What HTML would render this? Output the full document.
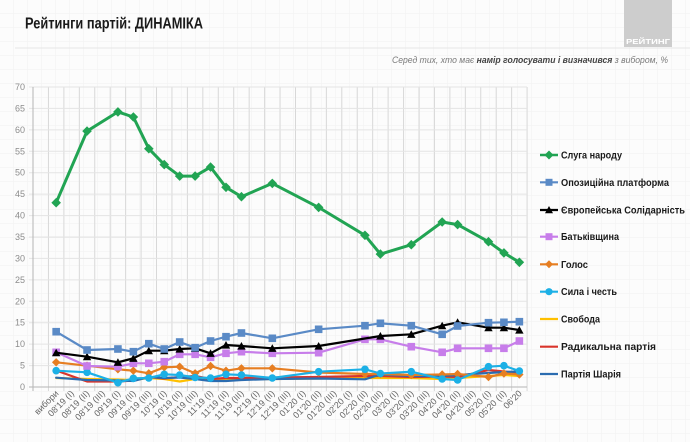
<!DOCTYPE html>
<html><head><meta charset="utf-8">
<style>
html,body{margin:0;padding:0;background:#fcfcfc;}
svg{display:block;}
text{font-family:"Liberation Sans","DejaVu Sans",sans-serif;}
</style></head>
<body>
<svg width="690" height="442" viewBox="0 0 690 442" xmlns="http://www.w3.org/2000/svg">
<defs>
<pattern id="bg" width="14" height="14" patternUnits="userSpaceOnUse">
<path d="M14 0V14M0 14H14" stroke="#f1f1f1" stroke-width="1" fill="none"/>
</pattern>
<marker id="mG" markerUnits="userSpaceOnUse" markerWidth="12" markerHeight="12" refX="6" refY="6"><path d="M6 1.2L10.8 6L6 10.8L1.2 6Z" fill="#21a453"/></marker>
<marker id="mB" markerUnits="userSpaceOnUse" markerWidth="10" markerHeight="10" refX="5" refY="5"><rect x="1.2" y="1.2" width="7.6" height="7.6" fill="#5a8ac6"/></marker>
<marker id="mK" markerUnits="userSpaceOnUse" markerWidth="10" markerHeight="10" refX="5" refY="5"><path d="M5 1L9.2 8.6H0.8Z" fill="#000"/></marker>
<marker id="mP" markerUnits="userSpaceOnUse" markerWidth="10" markerHeight="10" refX="5" refY="5"><rect x="1.2" y="1.2" width="7.6" height="7.6" fill="#c77dea"/></marker>
<marker id="mO" markerUnits="userSpaceOnUse" markerWidth="10" markerHeight="10" refX="5" refY="5"><path d="M5 0.8L9.2 5L5 9.2L0.8 5Z" fill="#e67e22"/></marker>
<marker id="mC" markerUnits="userSpaceOnUse" markerWidth="10" markerHeight="10" refX="5" refY="5"><circle cx="5" cy="5" r="3.8" fill="#1cb0e6"/></marker>
</defs>
<rect width="690" height="442" fill="#fcfcfc"/>
<rect width="690" height="442" fill="url(#bg)"/>
<line x1="15" y1="48" x2="690" y2="48" stroke="#e6e6e6" stroke-width="1"/>

<!-- logo -->
<rect x="624" y="0" width="48" height="47" fill="#cdcdcd"/>
<text x="626" y="44" font-size="7.5" font-weight="bold" fill="#ffffff" textLength="44" lengthAdjust="spacingAndGlyphs">РЕЙТИНГ</text>

<!-- title -->
<text x="25" y="28.5" font-size="16" font-weight="bold" fill="#1a1a1a" textLength="178" lengthAdjust="spacingAndGlyphs">Рейтинги партій: ДИНАМІКА</text>

<!-- subtitle -->
<text x="392" y="63" font-size="9" font-style="italic" fill="#7a7a7a" textLength="276" lengthAdjust="spacingAndGlyphs">Серед тих, хто має <tspan font-weight="bold" fill="#444">намір голосувати і визначився</tspan> з вибором, %</text>

<!-- grid -->
<path d="M33 87V391M48.44 87V391M63.88 87V391M79.32 87V391M94.76 87V391M110.2 87V391M125.64 87V391M141.08 87V391M156.52 87V391M171.96 87V391M187.4 87V391M202.84 87V391M218.28 87V391M233.72 87V391M249.16 87V391M264.6 87V391M280.04 87V391M295.48 87V391M310.92 87V391M326.36 87V391M341.8 87V391M357.24 87V391M372.68 87V391M388.12 87V391M403.56 87V391M419 87V391M434.44 87V391M449.88 87V391M465.32 87V391M480.76 87V391M496.2 87V391M511.64 87V391M527.08 87V391" stroke="#d8d8d8" stroke-width="1" fill="none"/>
<path d="M29 365.57H527M29 344.14H527M29 322.71H527M29 301.29H527M29 279.86H527M29 258.43H527M29 237H527M29 215.57H527M29 194.14H527M29 172.71H527M29 151.29H527M29 129.86H527M29 108.43H527M29 87H527" stroke="#e4e4e4" stroke-width="1" fill="none"/>
<line x1="33" y1="87" x2="33" y2="391" stroke="#b5b5b5" stroke-width="1"/>
<line x1="29" y1="387" x2="527" y2="387" stroke="#b5b5b5" stroke-width="1"/>

<!-- y labels -->
<g font-size="9" fill="#8c8c8c" text-anchor="end">
<text x="25" y="390">0</text>
<text x="25" y="368.6">5</text>
<text x="25" y="347.1">10</text>
<text x="25" y="325.7">15</text>
<text x="25" y="304.3">20</text>
<text x="25" y="282.9">25</text>
<text x="25" y="261.4">30</text>
<text x="25" y="240">35</text>
<text x="25" y="218.6">40</text>
<text x="25" y="197.1">45</text>
<text x="25" y="175.7">50</text>
<text x="25" y="154.3">55</text>
<text x="25" y="132.9">60</text>
<text x="25" y="111.4">65</text>
<text x="25" y="90">70</text>
</g>

<!-- x labels -->
<g font-size="9" fill="#666" text-anchor="end">
<text transform="translate(59.2,394) rotate(-45)">вибори</text>
<text transform="translate(74.6,394) rotate(-45)">08'19 (I)</text>
<text transform="translate(90.0,394) rotate(-45)">08'19 (II)</text>
<text transform="translate(105.5,394) rotate(-45)">08'19 (III)</text>
<text transform="translate(120.9,394) rotate(-45)">09'19 (I)</text>
<text transform="translate(136.4,394) rotate(-45)">09'19 (II)</text>
<text transform="translate(151.8,394) rotate(-45)">09'19 (III)</text>
<text transform="translate(167.2,394) rotate(-45)">10'19 (I)</text>
<text transform="translate(182.7,394) rotate(-45)">10'19 (II)</text>
<text transform="translate(198.1,394) rotate(-45)">10'19 (III)</text>
<text transform="translate(213.6,394) rotate(-45)">11'19 (I)</text>
<text transform="translate(229.0,394) rotate(-45)">11'19 (II)</text>
<text transform="translate(244.4,394) rotate(-45)">11'19 (III)</text>
<text transform="translate(259.9,394) rotate(-45)">12'19 (I)</text>
<text transform="translate(275.3,394) rotate(-45)">12'19 (II)</text>
<text transform="translate(290.8,394) rotate(-45)">12'19 (III)</text>
<text transform="translate(306.2,394) rotate(-45)">01'20 (I)</text>
<text transform="translate(321.6,394) rotate(-45)">01'20 (II)</text>
<text transform="translate(337.1,394) rotate(-45)">01'20 (III)</text>
<text transform="translate(352.5,394) rotate(-45)">02'20 (I)</text>
<text transform="translate(368.0,394) rotate(-45)">02'20 (II)</text>
<text transform="translate(383.4,394) rotate(-45)">02'20 (III)</text>
<text transform="translate(398.8,394) rotate(-45)">03'20 (I)</text>
<text transform="translate(414.3,394) rotate(-45)">03'20 (II)</text>
<text transform="translate(429.7,394) rotate(-45)">03'20 (III)</text>
<text transform="translate(445.2,394) rotate(-45)">04'20 (I)</text>
<text transform="translate(460.6,394) rotate(-45)">04'20 (II)</text>
<text transform="translate(476.0,394) rotate(-45)">04'20 (III)</text>
<text transform="translate(491.5,394) rotate(-45)">05'20 (I)</text>
<text transform="translate(506.9,394) rotate(-45)">05'20 (II)</text>
<text transform="translate(522.4,394) rotate(-45)">06'20</text>
</g>

<!-- series -->
<g fill="none" stroke-linejoin="round" stroke-linecap="round">
<polyline stroke="#ffc000" stroke-width="2.2" points="56.16,378 87.04,379 117.92,379.5 133.36,380 148.8,378 164.24,379 179.68,381.5 195.12,379 210.56,380 226,379.5 241.44,379 272.32,379 318.64,378.5 364.96,378 380.4,378 411.28,378 442.16,379 457.6,378 488.48,376 503.92,375 519.36,376"/>
<polyline stroke="#d9342b" stroke-width="2.2" points="56.16,370.5 87.04,381.5 117.92,381.5 133.36,380.5 148.8,377 164.24,378.5 179.68,377 195.12,376 210.56,379 226,378 241.44,378 272.32,377.5 318.64,377 364.96,376 380.4,376 411.28,377 442.16,376.5 457.6,377 488.48,370 503.92,371.5 519.36,373"/>
<polyline stroke="#2b6cb0" stroke-width="2.2" points="56.16,377.7 87.04,380 117.92,380.5 133.36,381 148.8,377 164.24,378 179.68,377.5 195.12,379 210.56,381 226,381 241.44,380 272.32,379 318.64,378.5 364.96,379.3 380.4,374.5 411.28,376 442.16,376 457.6,375 488.48,373 503.92,372 519.36,371.5"/>
<polyline stroke="#e67e22" stroke-width="2.2" marker-start="url(#mO)" marker-mid="url(#mO)" marker-end="url(#mO)" points="56.16,362.3 87.04,365.7 117.92,369.3 133.36,370.7 148.8,373.3 164.24,367.3 179.68,366.7 195.12,373.3 210.56,366 226,370.7 241.44,368.3 272.32,368.3 318.64,372.5 364.96,374 380.4,374 411.28,375 442.16,374.5 457.6,374 488.48,377 503.92,373.5 519.36,374.5"/>
<polyline stroke="#1cb0e6" stroke-width="2.2" marker-start="url(#mC)" marker-mid="url(#mC)" marker-end="url(#mC)" points="56.16,370.7 87.04,372.3 117.92,382.7 133.36,378.3 148.8,378 164.24,374.3 179.68,375 195.12,377.5 210.56,378 226,374.3 241.44,375 272.32,378 318.64,371.7 364.96,369.3 380.4,373.5 411.28,371.7 442.16,379 457.6,380 488.48,366.7 503.92,365.7 519.36,371"/>
<polyline stroke="#c77dea" stroke-width="2.2" marker-start="url(#mP)" marker-mid="url(#mP)" marker-end="url(#mP)" points="56.16,352.3 87.04,366 117.92,366.7 133.36,363.3 148.8,363.3 164.24,361.7 179.68,354.3 195.12,354.3 210.56,357.3 226,353.3 241.44,351.7 272.32,353.3 318.64,352.7 364.96,339.3 380.4,339.3 411.28,346.7 442.16,352.3 457.6,348.3 488.48,348.3 503.92,348.3 519.36,341"/>
<polyline stroke="#000000" stroke-width="2.2" marker-start="url(#mK)" marker-mid="url(#mK)" marker-end="url(#mK)" points="56.16,352.7 87.04,356.7 117.92,362.3 133.36,358.3 148.8,350.7 164.24,350.7 179.68,349 195.12,348.3 210.56,353.3 226,345 241.44,346 272.32,348.3 318.64,346 380.4,336 411.28,334.3 442.16,325.7 457.6,322.3 488.48,327.7 503.92,327.7 519.36,330"/>
<polyline stroke="#5a8ac6" stroke-width="2.2" marker-start="url(#mB)" marker-mid="url(#mB)" marker-end="url(#mB)" points="56.16,331.7 87.04,350 117.92,349 133.36,351.7 148.8,343.7 164.24,349 179.68,342 195.12,347.7 210.56,341 226,336.7 241.44,333 272.32,338.3 318.64,329.3 364.96,325.7 380.4,323.3 411.28,325.7 442.16,334.3 457.6,326 488.48,322.7 503.92,322.3 519.36,321.7"/>
<polyline stroke="#21a453" stroke-width="3" marker-start="url(#mG)" marker-mid="url(#mG)" marker-end="url(#mG)" points="56.16,202.7 87.04,131.1 117.92,111.9 133.36,117 148.8,148.7 164.24,164.6 179.68,176.1 195.12,176.1 210.56,167.1 226,187.3 241.44,196.7 272.32,183.4 318.64,207.4 364.96,235.3 380.4,254.1 411.28,244.7 442.16,222 457.6,224.6 488.48,241.7 503.92,252.9 519.36,262.3"/>
</g>

<!-- legend -->
<g stroke-width="2.2">
<line x1="540" y1="155" x2="558" y2="155" stroke="#21a453" stroke-width="2.6"/>
<path d="M549 150.5L553.5 155L549 159.5L544.5 155Z" fill="#21a453"/>
<line x1="540" y1="182.3" x2="558" y2="182.3" stroke="#5a8ac6"/>
<rect x="545.5" y="178.8" width="7" height="7" fill="#5a8ac6"/>
<line x1="540" y1="210" x2="558" y2="210" stroke="#000"/>
<path d="M549 206L553 213.3H545Z" fill="#000"/>
<line x1="540" y1="236.7" x2="558" y2="236.7" stroke="#c77dea"/>
<rect x="545.5" y="233.2" width="7" height="7" fill="#c77dea"/>
<line x1="540" y1="264.3" x2="558" y2="264.3" stroke="#e67e22"/>
<path d="M549 260.3L553 264.3L549 268.3L545 264.3Z" fill="#e67e22"/>
<line x1="540" y1="291.7" x2="558" y2="291.7" stroke="#1cb0e6"/>
<circle cx="549" cy="291.7" r="3.6" fill="#1cb0e6"/>
<line x1="540" y1="319" x2="558" y2="319" stroke="#ffc000"/>
<line x1="540" y1="346.7" x2="558" y2="346.7" stroke="#d9342b"/>
<line x1="540" y1="374" x2="558" y2="374" stroke="#2b6cb0"/>
</g>
<g font-size="10" font-weight="bold" fill="#1a1a1a">
<text x="561" y="158.5" textLength="61" lengthAdjust="spacingAndGlyphs">Слуга народу</text>
<text x="561" y="185.8" textLength="108" lengthAdjust="spacingAndGlyphs">Опозиційна платформа</text>
<text x="561" y="213.5" textLength="124" lengthAdjust="spacingAndGlyphs">Європейська Солідарність</text>
<text x="561" y="240.2" textLength="58" lengthAdjust="spacingAndGlyphs">Батьківщина</text>
<text x="561" y="267.8" textLength="27" lengthAdjust="spacingAndGlyphs">Голос</text>
<text x="561" y="295.2" textLength="56" lengthAdjust="spacingAndGlyphs">Сила і честь</text>
<text x="561" y="322.5" textLength="39" lengthAdjust="spacingAndGlyphs">Свобода</text>
<text x="561" y="350.2" textLength="95" lengthAdjust="spacingAndGlyphs">Радикальна партія</text>
<text x="561" y="377.5" textLength="60" lengthAdjust="spacingAndGlyphs">Партія Шарія</text>
</g>
</svg>
</body></html>
